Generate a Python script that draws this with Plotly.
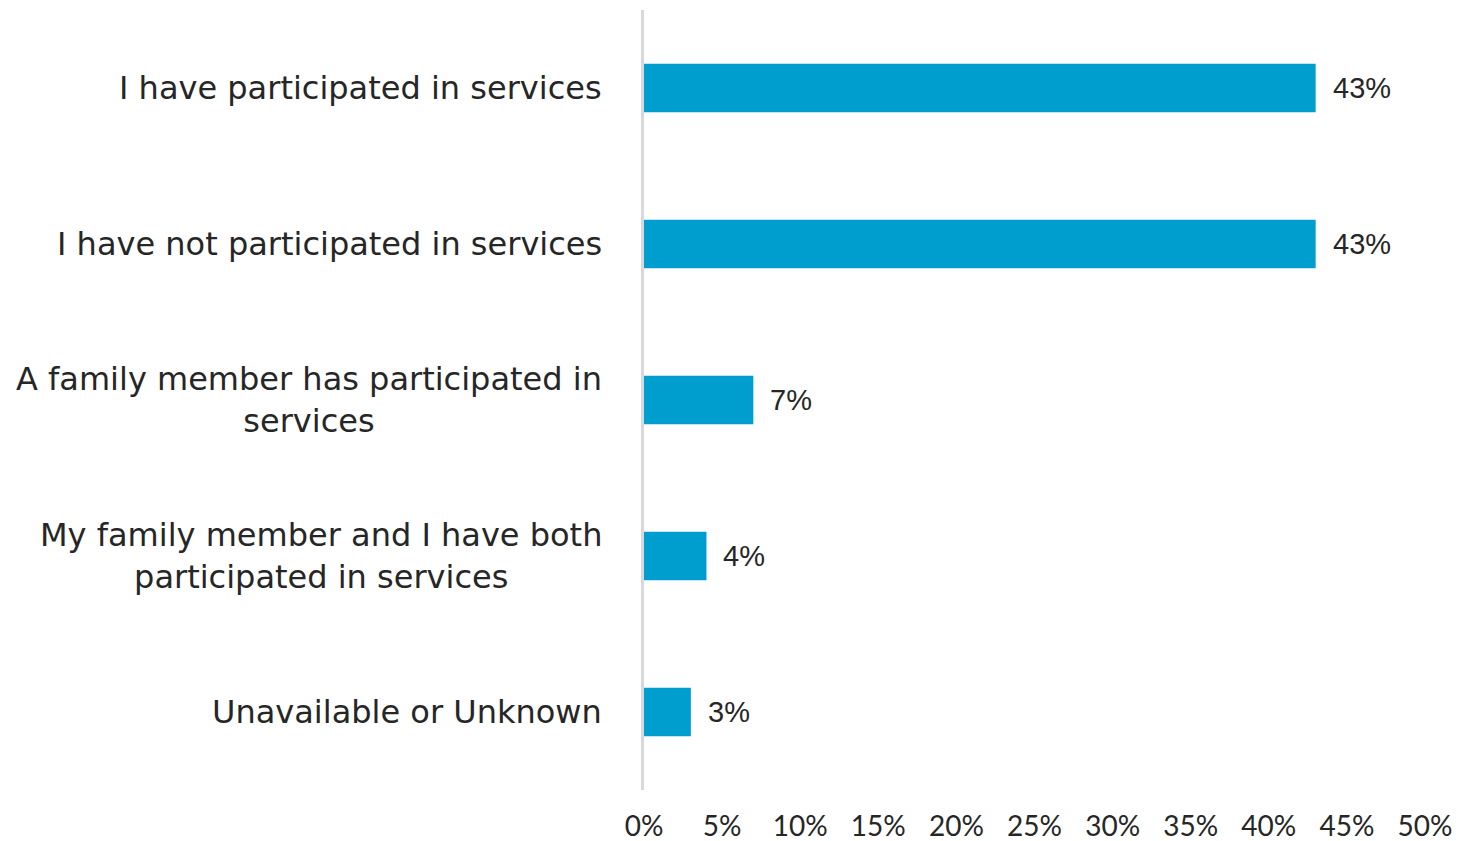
import plotly.graph_objects as go

categories = [
    "I have participated in services",
    "I have not participated in services",
    "A family member has participated in<br>services",
    "My family member and I have both<br>participated in services",
    "Unavailable or Unknown",
]
values = [43, 43, 7, 4, 3]
value_labels = ["43%", "43%", "7%", "4%", "3%"]
tick_vals = [0, 5, 10, 15, 20, 25, 30, 35, 40, 45, 50]
tick_text = ["0%", "5%", "10%", "15%", "20%", "25%", "30%", "35%", "40%", "45%", "50%"]

bar_color = "#009ECE"
text_color = "#262626"
label_font = "'DejaVu Sans', sans-serif"

fig = go.Figure()
fig.add_trace(go.Bar(
    y=categories,
    x=values,
    orientation="h",
    marker=dict(color=bar_color, line=dict(width=0)),
    hoverinfo="skip",
))

annotations = []
for cat, v, lab in zip(categories, values, value_labels):
    annotations.append(dict(
        x=v, y=cat, xref="x", yref="y", text=lab, showarrow=False,
        xanchor="left", xshift=15, yanchor="middle",
        font=dict(family="'Liberation Sans', Arial, sans-serif", size=29, color=text_color),
    ))
    annotations.append(dict(
        x=0, y=cat, xref="x", yref="y", text=cat, showarrow=False,
        xanchor="right", xshift=-40, yanchor="middle", align="center",
        font=dict(family=label_font, size=32, color=text_color),
    ))

fig.update_layout(
    width=1452, height=833,
    margin=dict(l=636, r=35, t=2, b=51, autoexpand=False),
    paper_bgcolor="white",
    plot_bgcolor="white",
    showlegend=False,
    bargap=0.69,
    annotations=annotations,
    xaxis=dict(
        range=[0, 50],
        tickvals=tick_vals,
        ticktext=tick_text,
        showgrid=False,
        zeroline=False,
        showline=False,
        ticks="",
        automargin=False,
        tickfont=dict(family="Lato, sans-serif", size=28, color=text_color),
        ticklabelstandoff=17,
    ),
    yaxis=dict(
        categoryorder="array",
        categoryarray=categories[::-1],
        showticklabels=False,
        showgrid=False,
        zeroline=False,
        showline=True,
        linecolor="#D9D9D9",
        linewidth=3,
        ticks="",
        automargin=False,
    ),
)

fig.write_html("out.html")
